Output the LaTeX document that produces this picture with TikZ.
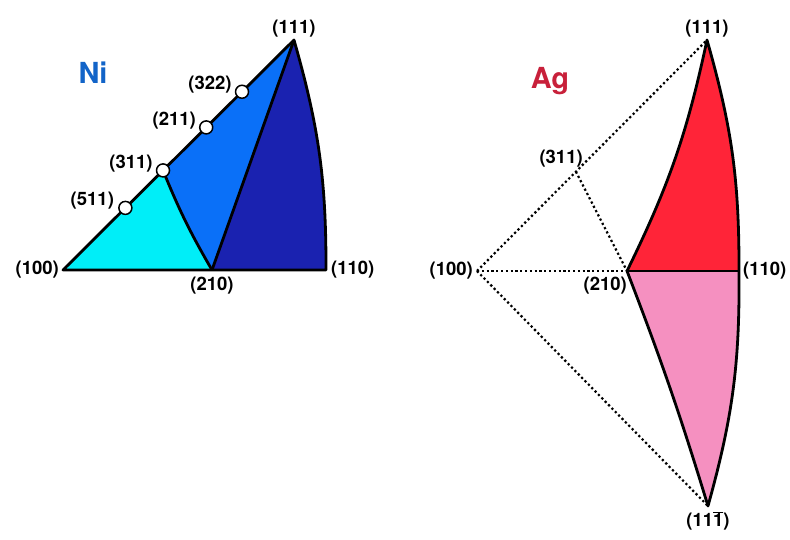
\documentclass[tikz,border=0pt]{standalone}
\usepackage{fontspec}
\setmainfont{TeX Gyre Heros}
\usepackage{xcolor}
\usetikzlibrary{positioning, calc}

\definecolor{nicyan}{RGB}{0,238,248}
\definecolor{nimid}{RGB}{10,112,248}
\definecolor{nidark}{RGB}{26,34,176}
\definecolor{nilabel}{RGB}{18,100,200}
\definecolor{agred}{RGB}{255,36,56}
\definecolor{agpink}{RGB}{245,144,192}
\definecolor{aglabel}{RGB}{200,32,58}

\begin{document}
\begin{tikzpicture}[x=1pt, y=-1pt,
    edge/.style={line width=2.8pt, draw=black, line join=round},
    dotline/.style={line width=2.2pt, dash pattern=on 2.2pt off 2.6pt},
    pole/.style={font=\bfseries\fontsize{18.5}{18.5}\selectfont, inner sep=1pt},
    marker/.style={circle, draw=black, line width=1.5pt, fill=white, minimum size=13pt, inner sep=0pt},
    metal/.style={font=\bfseries\fontsize{29}{29}\selectfont, inner sep=0pt}
]
    \useasboundingbox (0,0) rectangle (790,540);

    % Ni triangle
    \coordinate (ni100) at (63,270);
    \coordinate (ni110) at (326,270);
    \coordinate (ni111) at (294,40);
    \coordinate (ni210) at (212,270);
    \coordinate (ni311) at ($(ni100)!0.433!(ni111)$);

    \fill[nicyan] (ni100) -- (ni311) to[bend right=4] (ni210) -- cycle;
    \fill[nimid] (ni311) -- (ni111) -- (ni210) to[bend left=4] (ni311) -- cycle;
    \fill[nidark] (ni210) -- (ni111) to[bend left=8] (ni110) -- cycle;

    \draw[edge] (ni100) -- (ni111) to[bend left=8] (ni110) -- cycle;
    \draw[edge] (ni111) -- (ni210);
    \draw[edge] (ni311) to[bend right=4] (ni210);

    \node (m511) [marker] at ($(ni100)!0.27!(ni111)$) {};
    \node (m311) [marker] at (ni311) {};
    \node (m211) [marker] at ($(ni100)!0.62!(ni111)$) {};
    \node (m322) [marker] at ($(ni100)!0.775!(ni111)$) {};

    \node (ni_label) [metal, text=nilabel] at (93,73) {Ni};
    \node (l_ni111) [pole, above=2pt of ni111] {(111)};
    \node (l_ni100) [pole, left=3pt of ni100] {(100)};
    \node (l_ni110) [pole, right=4pt of ni110] {(110)};
    \node (l_ni210) [pole, below=6pt of ni210] {(210)};
    \node (l_ni511) [pole, left=3pt of m511, yshift=7pt] {(511)};
    \node (l_ni311) [pole, left=2pt of m311, yshift=7pt] {(311)};
    \node (l_ni211) [pole, left=2pt of m211, yshift=7pt] {(211)};
    \node (l_ni322) [pole, left=2pt of m322, yshift=7pt] {(322)};

    % Ag triangle
    \coordinate (ag100) at (477,271);
    \coordinate (ag110) at (739,271);
    \coordinate (ag111) at (707,40);
    \coordinate (ag11m) at (708,506);
    \coordinate (ag210) at (627,271);
    \coordinate (ag311) at ($(ag100)!0.43!(ag111)$);

    \fill[agred] (ag210) to[bend right=7] (ag111) to[bend left=8] (ag110) -- cycle;
    \fill[agpink] (ag210) -- (ag110) to[bend left=8] (ag11m) to[bend right=2] (ag210) -- cycle;

    \draw[dotline] (ag100) -- (ag111);
    \draw[dotline] (ag100) -- (ag210);
    \draw[dotline] (ag311) -- (ag210);
    \draw[dotline] (ag100) -- (ag11m);

    \draw[edge] (ag210) to[bend right=7] (ag111) to[bend left=8] (ag110) to[bend left=8] (ag11m) to[bend right=2] (ag210) -- cycle;
    \draw[edge] (ag210) -- (ag110);

    \node (ag_label) [metal, text=aglabel, anchor=base] at (550,89) {Ag};
    \node (l_ag111) [pole, above=2pt of ag111] {(111)};
    \node (l_ag311) [pole, above left=3pt and -8pt of ag311] {(311)};
    \node (l_ag100) [pole, left=3pt of ag100] {(100)};
    \node (l_ag110) [pole, right=3pt of ag110] {(110)};
    \node (l_ag210) [pole, below left=5pt and -1pt of ag210] {(210)};
    \node (l_ag11m) [pole, below=4pt of ag11m] {(11$\overline{\mbox{1}}$)};
\end{tikzpicture}
\end{document}
